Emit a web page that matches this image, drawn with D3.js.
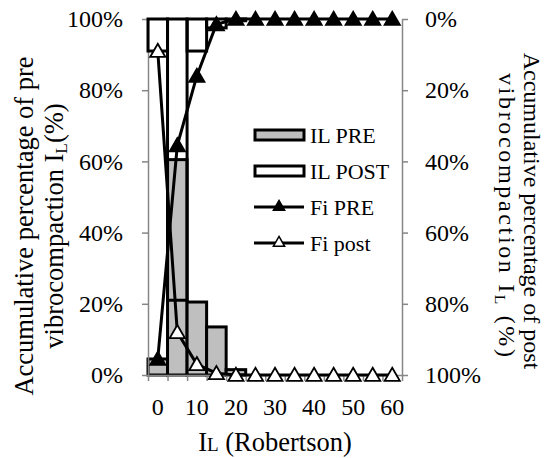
<!DOCTYPE html>
<html>
<head>
<meta charset="utf-8">
<script src="https://cdn.jsdelivr.net/npm/d3@7"></script>
<style>
  body { margin: 0; background: #fff; }
</style>
</head>
<body>
<div id="chart"></div>
<script>
// bins of I_L (Robertson)
const categories = [0, 5, 10, 15, 20, 25, 30, 35, 40, 45, 50, 55, 60];
const xLabels = [0, 10, 20, 30, 40, 50, 60];
// percentage per bin
const ilPre = [4.5, 60.5, 20.5, 13.5, 1.5, 0, 0, 0, 0, 0, 0, 0, 0];
const ilPost = [9, 79, 9, 2.5, 0.5, 0, 0, 0, 0, 0, 0, 0, 0];
// accumulated percentage
const fiPre = [4.5, 64.5, 84, 98.5, 100, 100, 100, 100, 100, 100, 100, 100, 100];
const fiPost = [9, 88, 97, 99.5, 100, 100, 100, 100, 100, 100, 100, 100, 100];
const yTicks = [0, 20, 40, 60, 80, 100];

const FONT = "Liberation Serif";
const width = 547, height = 458;
const margin = { left: 148, right: 145, top: 19, bottom: 83 };
const x0 = margin.left, x1 = width - margin.right;
const y0 = height - margin.bottom, y1 = margin.top;

const svg = d3.select("#chart").append("svg")
  .attr("width", width).attr("height", height)
  .attr("font-family", FONT);

const x = d3.scaleBand().domain(categories).range([x0, x1]).padding(0);
const xEdge = d3.scaleLinear().domain([0, categories.length]).range([x0, x1]);
const yLeft = d3.scaleLinear().domain([0, 100]).range([y0, y1]);
const yRight = d3.scaleLinear().domain([0, 100]).range([y1, y0]); // reversed

const axisColor = "#868686";

// bars: IL PRE grows from bottom
svg.append("g").selectAll("rect")
  .data(ilPre)
  .join("rect")
  .attr("x", (d, i) => x(categories[i]))
  .attr("y", d => yLeft(d))
  .attr("width", x.bandwidth())
  .attr("height", d => yLeft(0) - yLeft(d))
  .attr("fill", "#bfbfbf")
  .attr("stroke", "#000")
  .attr("stroke-width", 3);

// axes
const left = svg.append("g")
  .attr("transform", `translate(${x0},0)`)
  .call(d3.axisLeft(yLeft).tickValues(yTicks).tickSize(6).tickSizeOuter(0).tickPadding(19)
    .tickFormat(d => d + "%"));

const right = svg.append("g")
  .attr("transform", `translate(${x1},0)`)
  .call(d3.axisRight(yRight).tickValues(yTicks).tickSize(6).tickSizeOuter(0).tickPadding(17)
    .tickFormat(d => d + "%"));

const bottomTicks = svg.append("g")
  .attr("transform", `translate(0,${y0})`)
  .call(d3.axisBottom(xEdge).ticks(categories.length).tickSize(6).tickSizeOuter(0).tickFormat(""));

const bottom = svg.append("g")
  .attr("transform", `translate(0,${y0})`)
  .call(d3.axisBottom(x).tickValues(xLabels).tickSize(0).tickPadding(23));
bottom.select(".domain").remove();

[left, right, bottomTicks].forEach(g => {
  g.select(".domain").attr("stroke", axisColor).attr("stroke-width", 1.5);
  g.selectAll(".tick line").attr("stroke", axisColor).attr("stroke-width", 1.5);
});
[left, right, bottom].forEach(g => {
  g.attr("font-family", FONT).attr("font-size", 24);
  g.selectAll("text").attr("font-family", FONT).attr("font-size", 24).attr("fill", "#000");
});

// bars: IL POST hangs from the top on the reversed axis, outline only
svg.append("g").selectAll("rect")
  .data(ilPost)
  .join("rect")
  .attr("x", (d, i) => x(categories[i]))
  .attr("y", yRight(0))
  .attr("width", x.bandwidth())
  .attr("height", d => yRight(d) - yRight(0))
  .attr("fill", "none")
  .attr("stroke", "#000")
  .attr("stroke-width", 3);

const cx = i => x(categories[i]) + x.bandwidth() / 2;
const tri = d3.symbol().type(d3.symbolTriangle).size(100);

function drawLine(values, yScale, markerFill) {
  const g = svg.append("g");
  g.append("path")
    .attr("d", d3.line().x((d, i) => cx(i)).y(d => yScale(d))(values))
    .attr("fill", "none")
    .attr("stroke", "#000")
    .attr("stroke-width", 3);
  g.selectAll("path.m")
    .data(values)
    .join("path")
    .attr("class", "m")
    .attr("d", tri)
    .attr("transform", (d, i) => `translate(${cx(i)},${yScale(d) + 1.5})`)
    .attr("fill", markerFill)
    .attr("stroke", "#000")
    .attr("stroke-width", 1.8);
}

drawLine(fiPre, yLeft, "#000");
drawLine(fiPost, yRight, "#fff");

// legend
const legendItems = [
  { name: "IL PRE", type: "bar", fill: "#bfbfbf" },
  { name: "IL POST", type: "bar", fill: "#fff" },
  { name: "Fi PRE", type: "line", fill: "#000" },
  { name: "Fi post", type: "line", fill: "#fff" },
];
const legend = svg.append("g").attr("transform", "translate(254,135)");
legendItems.forEach((item, i) => {
  const g = legend.append("g").attr("transform", `translate(0,${i * 36})`);
  if (item.type === "bar") {
    g.append("rect").attr("x", 1).attr("y", -5).attr("width", 49).attr("height", 10)
      .attr("fill", item.fill).attr("stroke", "#000").attr("stroke-width", 3);
  } else {
    g.append("line").attr("x1", 0).attr("x2", 50).attr("y1", 0).attr("y2", 0)
      .attr("stroke", "#000").attr("stroke-width", 3);
    g.append("path").attr("d", d3.symbol().type(d3.symbolTriangle).size(55))
      .attr("transform", "translate(25,0)")
      .attr("fill", item.fill).attr("stroke", "#000").attr("stroke-width", 1.5);
  }
  g.append("text").attr("x", 56).attr("y", 7.5).attr("font-size", 22).text(item.name);
});

// axis titles
const titleSize = 26.5;
const lt = svg.append("text").attr("font-size", titleSize).attr("text-anchor", "middle")
  .attr("transform", "translate(33,226) rotate(-90)");
lt.append("tspan").attr("x", 0).attr("y", 0).text("Accumulative percentage of pre");
lt.append("tspan").attr("x", 0).attr("y", 30).text("vibrocompaction I");
lt.append("tspan").attr("font-size", titleSize * 0.65).attr("dy", 4).text("L");
lt.append("tspan").attr("dy", -4).text("(%)");

const rSize = 24;
svg.append("text").attr("font-size", rSize).attr("text-anchor", "middle")
  .attr("transform", "translate(524,211) rotate(90)")
  .text("Accumulative percentage of post");
const rt2 = svg.append("text").attr("font-size", rSize)
  .attr("transform", "translate(499,73) rotate(90)")
  .attr("textLength", 284).attr("lengthAdjust", "spacing");
rt2.append("tspan").text("vibrocompaction  I");
rt2.append("tspan").attr("font-size", rSize * 0.65).attr("dy", 4).text("L");
rt2.append("tspan").attr("dy", -4).text(" (%)");

const xt = svg.append("text").attr("font-size", titleSize).attr("text-anchor", "middle")
  .attr("x", (x0 + x1) / 2).attr("y", 451);
xt.append("tspan").text("I");
xt.append("tspan").attr("font-size", titleSize * 0.72).text("L");
xt.append("tspan").text(" (Robertson)");
</script>
</body>
</html>
